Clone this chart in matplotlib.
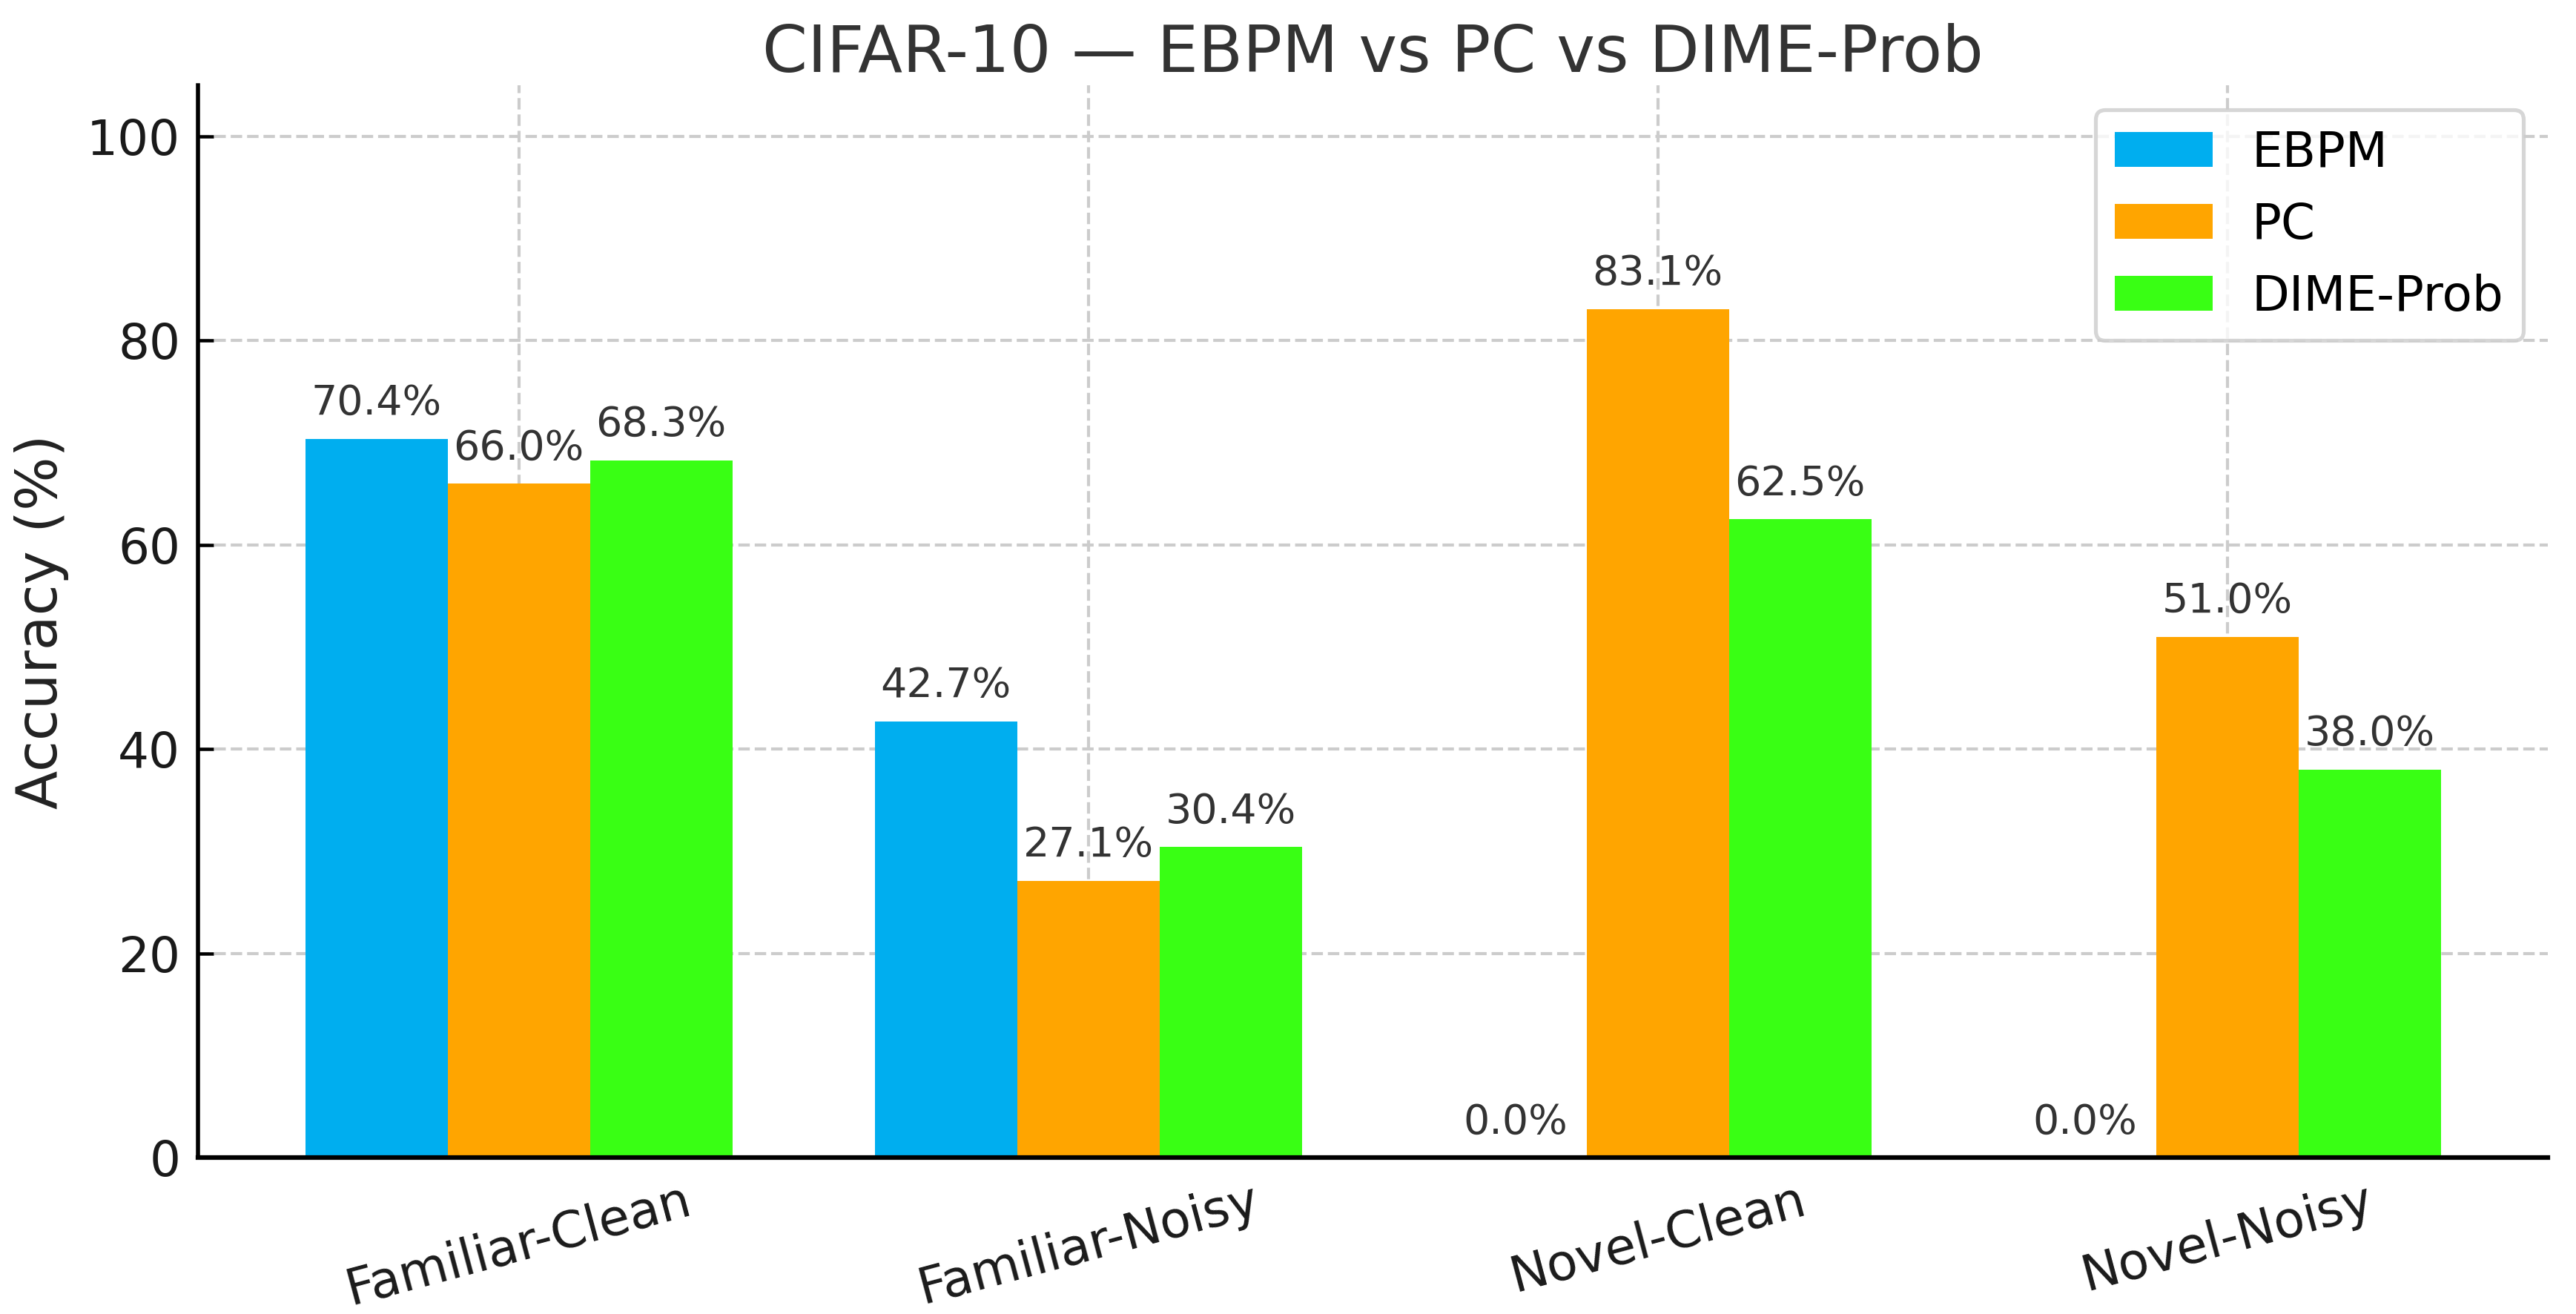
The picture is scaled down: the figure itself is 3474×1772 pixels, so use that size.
import matplotlib
matplotlib.use('Agg')
import matplotlib.pyplot as plt
import numpy as np

# data
conditions = ['Familiar-Clean', 'Familiar-Noisy', 'Novel-Clean', 'Novel-Noisy']
methods = ['EBPM', 'PC', 'DIME-Prob']
ebpm = [70.4, 42.7, 0.0, 0.0]
pc = [66.0, 27.1, 83.1, 51.0]
dime = [68.3, 30.4, 62.5, 38.0]
colors = ['#00AEEF', '#FFA500', '#39FF14']

fig = plt.figure(figsize=(3474 / 250, 1772 / 250), dpi=250)
ax = fig.add_axes([0.077, 0.119, 0.912, 0.816])

x = np.arange(len(conditions))
w = 0.25
for i, (vals, name) in enumerate(zip([ebpm, pc, dime], methods)):
    bars = ax.bar(x + (i - 1) * w, vals, w, label=name, color=colors[i], zorder=2)
    ax.bar_label(bars, labels=[f'{v:.1f}%' for v in vals], padding=6,
                 fontsize=16, color='#333333')

ax.set_ylim(0, 105)
ax.set_xticks(x)
ax.set_xticklabels(conditions, rotation=15, fontsize=19.5, color='#1a1a1a')
ax.tick_params(axis='y', labelsize=19, labelcolor='#1a1a1a')
ax.tick_params(direction='in', length=6, width=1.3, pad=7)
ax.set_ylabel('Accuracy (%)', fontsize=22, color='#222222', labelpad=7)
ax.set_title('CIFAR-10 — EBPM vs PC vs DIME-Prob', fontsize=25.2, color='#333333', pad=4)

ax.grid(True, linestyle='--', color='#cccccc', linewidth=1.2, zorder=0)
ax.set_axisbelow(True)
ax.spines['top'].set_visible(False)
ax.spines['right'].set_visible(False)
ax.spines['left'].set_linewidth(1.6)
ax.spines['bottom'].set_linewidth(1.8)

leg = ax.legend(loc='upper right', fontsize=19, frameon=True, fancybox=True)
leg.get_frame().set_edgecolor('#cccccc')
leg.get_frame().set_linewidth(1.5)

fig.savefig('out.png', dpi=250)
